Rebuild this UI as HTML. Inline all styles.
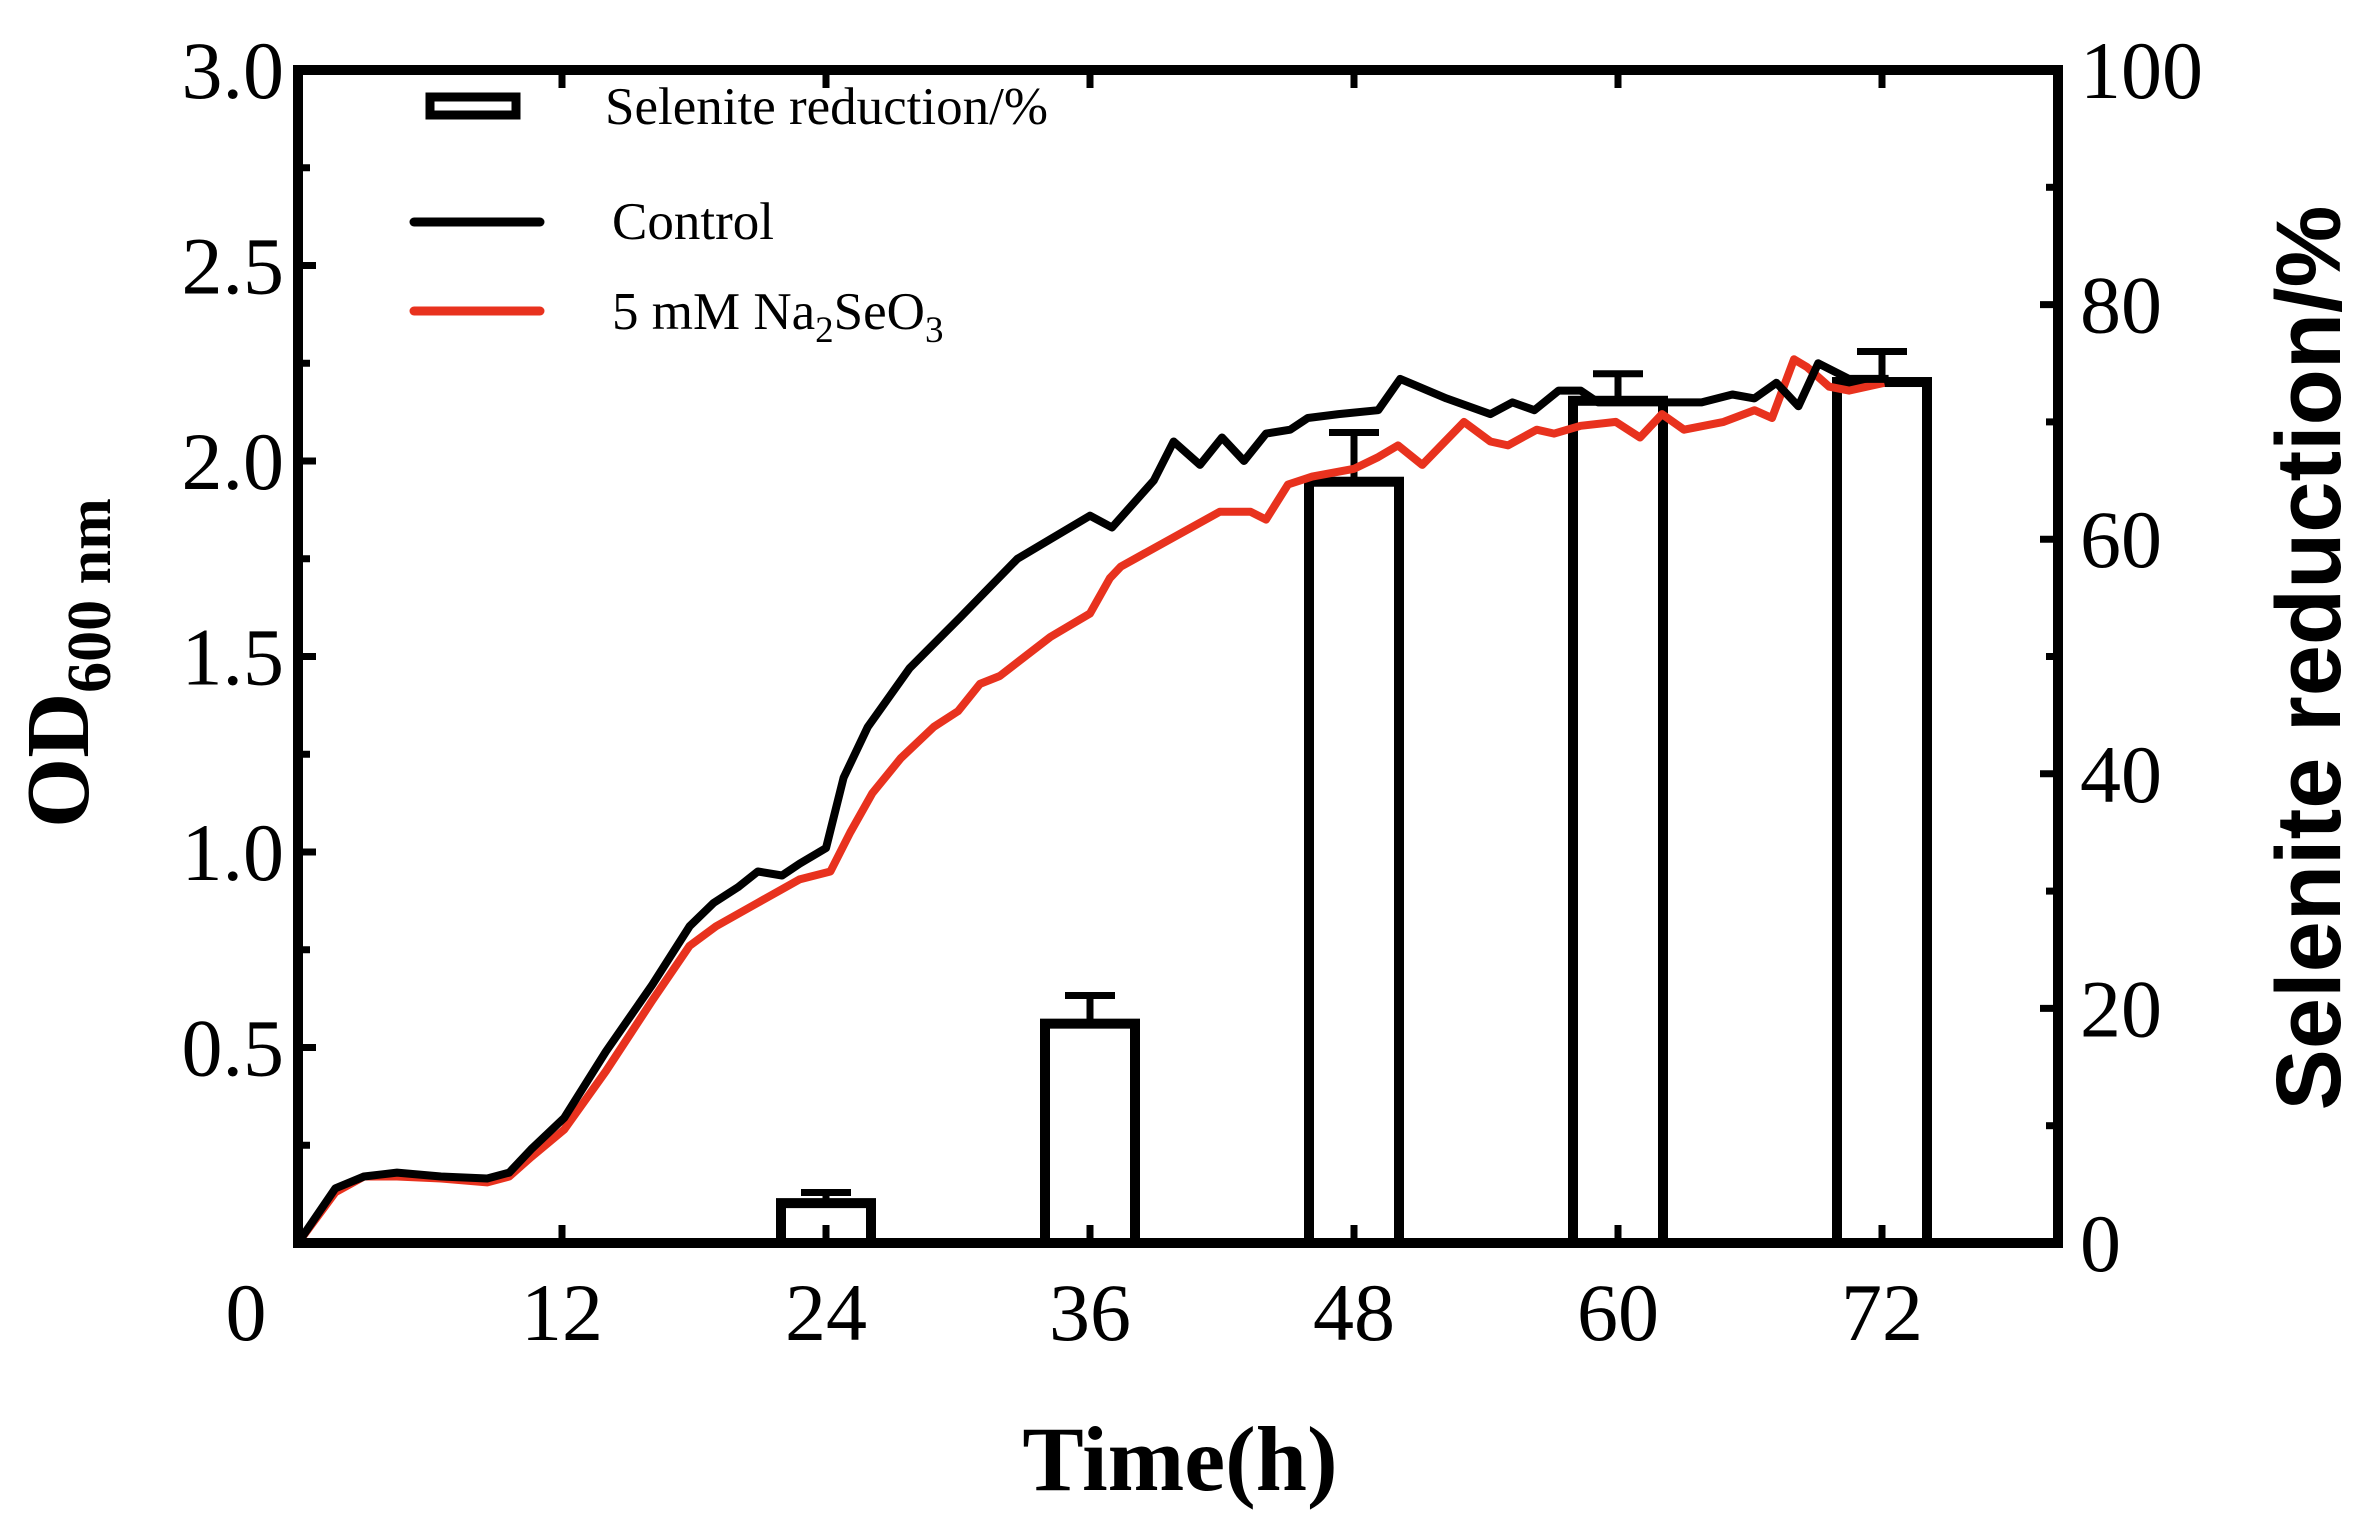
<!DOCTYPE html>
<html><head><meta charset="utf-8"><style>
html,body{margin:0;padding:0;background:#fff;}
svg{display:block;}
</style></head><body>
<svg id="chart" width="2372" height="1524" viewBox="0 0 2372 1524" xmlns="http://www.w3.org/2000/svg">
<g id="plot"></g>
</svg>
<script>
const timeTicks = [12, 24, 36, 48, 60, 72];
const odTicks = [0.5, 1.0, 1.5, 2.0, 2.5, 3.0];
const odTickLabels = ["0.5", "1.0", "1.5", "2.0", "2.5", "3.0"];
const pctTicks = [0, 20, 40, 60, 80, 100];
const barTimes = [24, 36, 48, 60, 72];
const barValues = [3.4, 18.7, 64.9, 71.8, 73.4];
const barErrors = [0.9, 2.4, 4.2, 2.3, 2.6];
const controlT = [0,1.7,3,4.5,6.5,8.6,9.6,10.6,12.1,14,16.1,17.8,18.9,20,20.9,22,22.8,24,24.8,25.9,27.8,30.1,32.7,34.2,36,37,38.9,39.8,41,42,43,44,45.1,45.9,47.3,49.1,50.1,52.2,54.2,55.2,56.2,57.3,58.3,59.1,63.8,65.2,66.2,67.2,68.2,69.1,70.5,72.3];
const controlOD = [0,0.14,0.17,0.18,0.17,0.165,0.18,0.24,0.32,0.49,0.66,0.81,0.87,0.91,0.95,0.94,0.97,1.01,1.19,1.32,1.47,1.60,1.75,1.80,1.86,1.83,1.95,2.05,1.99,2.06,2.0,2.07,2.08,2.11,2.12,2.13,2.21,2.16,2.12,2.15,2.13,2.18,2.18,2.15,2.15,2.17,2.16,2.20,2.14,2.25,2.21,2.21];
const seT = [0,1.7,3,4.5,6.5,8.6,9.6,10.6,12.1,14,16.1,17.8,19,20.9,22.8,24.2,25.1,26.1,27.4,28.9,30,31,31.9,34.2,35.4,36,36.9,37.4,41.9,43.3,44,45,46.1,48,49.1,50,51.1,53,54.2,55,56.3,57.1,58.3,59.9,61,62,63,64.8,66.2,67,68,68.6,69.6,70.5,72.1];
const seOD = [0,0.13,0.17,0.17,0.165,0.155,0.17,0.22,0.29,0.44,0.62,0.76,0.81,0.87,0.93,0.95,1.05,1.15,1.24,1.32,1.36,1.43,1.45,1.55,1.59,1.61,1.70,1.73,1.87,1.87,1.85,1.94,1.96,1.98,2.01,2.04,1.99,2.10,2.05,2.04,2.08,2.07,2.09,2.10,2.06,2.12,2.08,2.10,2.13,2.11,2.26,2.24,2.19,2.18,2.20];

const X0 = 298, PX_PER_H = 22, AX_BOTTOM = 1243, AX_TOP = 70, XMAX = 80;
const xs = t => X0 + t * PX_PER_H;
const yOD = v => AX_BOTTOM - v / 3 * (AX_BOTTOM - AX_TOP);
const yPct = p => AX_BOTTOM - p / 100 * (AX_BOTTOM - AX_TOP);
const XR = xs(XMAX);
const NS = "http://www.w3.org/2000/svg";
const g = document.getElementById('plot');
function mk(tag, attrs, parent) {
  const e = document.createElementNS(NS, tag);
  for (const k in attrs) e.setAttribute(k, attrs[k]);
  (parent || g).appendChild(e);
  return e;
}
const serif = '"Liberation Serif", serif';

// bars
barTimes.forEach((t, i) => {
  const cx = xs(t), w = 90, top = yPct(barValues[i]), et = yPct(barValues[i] + barErrors[i]);
  const b = mk('rect', {x: cx - w / 2, y: top, width: w, height: AX_BOTTOM - top, fill: 'none', stroke: '#000', 'stroke-width': 10});
  
  
  const e1 = mk('line', {x1: cx, x2: cx, y1: top, y2: et, stroke: '#000', 'stroke-width': 7});
  
  
  const e2 = mk('line', {x1: cx - 25, x2: cx + 25, y1: et, y2: et, stroke: '#000', 'stroke-width': 7});
  
  
});

// lines
function series(T, V, color, name) {
  const d = T.map((t, i) => (i ? 'L' : 'M') + xs(t).toFixed(1) + ' ' + yOD(V[i]).toFixed(1)).join(' ');
  const p = mk('path', {d: d, fill: 'none', stroke: color, 'stroke-width': 8, 'stroke-linejoin': 'round'});
  
  
}
series(seT, seOD, '#e8321e', 'selenite-line');
series(controlT, controlOD, '#000', 'control-line');

// axes frame
const frame = mk('rect', {x: X0, y: AX_TOP, width: XR - X0, height: AX_BOTTOM - AX_TOP, fill: 'none', stroke: '#000', 'stroke-width': 10});



// left ticks
for (let v = 0.25; v < 3; v += 0.25) {
  const major = Math.abs(v * 2 - Math.round(v * 2)) < 1e-6;
  const t = mk('line', {x1: X0, x2: X0 + (major ? 18 : 12), y1: yOD(v), y2: yOD(v), stroke: '#000', 'stroke-width': 7});
  
  
}
odTicks.forEach((v, i) => {
  const t = mk('text', {x: 284, y: yOD(v) + 28, 'text-anchor': 'end', 'font-family': serif, 'font-size': 82});
  t.textContent = odTickLabels[i];
  
  
});
const z = mk('text', {x: 246, y: 1340, 'text-anchor': 'middle', 'font-family': serif, 'font-size': 82});
z.textContent = '0';



// x ticks
timeTicks.forEach(t => {
  const a = mk('line', {x1: xs(t), x2: xs(t), y1: AX_BOTTOM, y2: AX_BOTTOM - 18, stroke: '#000', 'stroke-width': 7});
  
  
  const b = mk('line', {x1: xs(t), x2: xs(t), y1: AX_TOP, y2: AX_TOP + 18, stroke: '#000', 'stroke-width': 7});
  
  
  const l = mk('text', {x: xs(t), y: 1340, 'text-anchor': 'middle', 'font-family': serif, 'font-size': 82});
  l.textContent = String(t);
  
  
});

// right ticks
for (let p = 10; p < 100; p += 10) {
  const t = mk('line', {x1: XR, x2: XR - (p % 20 === 0 ? 18 : 12), y1: yPct(p), y2: yPct(p), stroke: '#000', 'stroke-width': 7});
  
  
}
pctTicks.forEach(p => {
  const t = mk('text', {x: XR + 22, y: yPct(p) + 28, 'text-anchor': 'start', 'font-family': serif, 'font-size': 82});
  t.textContent = String(p);
  
  
});

// titles
const xt = mk('text', {x: 1180, y: 1490, 'text-anchor': 'middle', 'font-family': serif, 'font-size': 92, 'font-weight': 'bold'});
xt.textContent = 'Time(h)';


const yt = mk('text', {transform: 'translate(88,663) rotate(-90)', 'text-anchor': 'middle', 'font-family': serif, 'font-size': 90, 'font-weight': 'bold'});
yt.innerHTML = 'OD<tspan font-size="62" dy="22">600 nm</tspan>';


const rt = mk('text', {transform: 'translate(2340,658) rotate(-90)', 'text-anchor': 'middle', 'font-family': '"Liberation Sans", sans-serif', 'font-size': 92, 'font-weight': 'bold'});
rt.textContent = 'Selenite reduction/%';



// legend
const lb = mk('rect', {x: 430, y: 97, width: 86, height: 18, fill: 'none', stroke: '#000', 'stroke-width': 9});


const l1 = mk('text', {x: 605, y: 124, 'font-family': serif, 'font-size': 53});
l1.textContent = 'Selenite reduction/%';


const lc = mk('line', {x1: 414, x2: 540, y1: 222, y2: 222, stroke: '#000', 'stroke-width': 9, 'stroke-linecap': 'round'});


const l2 = mk('text', {x: 612, y: 239, 'font-family': serif, 'font-size': 53});
l2.textContent = 'Control';


const ls = mk('line', {x1: 414, x2: 540, y1: 311, y2: 311, stroke: '#e8321e', 'stroke-width': 9, 'stroke-linecap': 'round'});


const l3 = mk('text', {x: 612, y: 329, 'font-family': serif, 'font-size': 53});
l3.innerHTML = '5 mM Na<tspan font-size="37" dy="13">2</tspan><tspan dy="-13">SeO</tspan><tspan font-size="37" dy="13">3</tspan>';


</script>
</body></html>
